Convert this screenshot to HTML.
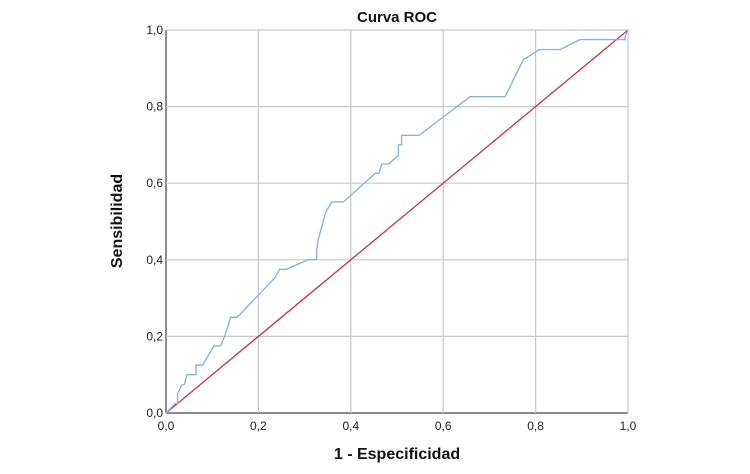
<!DOCTYPE html>
<html><head><meta charset="utf-8"><style>
body{margin:0;background:#fff;}
svg text{font-family:"Liberation Sans",Arial,sans-serif;}
</style></head><body>
<svg width="750" height="469" viewBox="0 0 750 469">
<g id="grid"></g>
<g id="ticks"></g>
<text x="397" y="22" text-anchor="middle" font-size="15" font-weight="bold" fill="#111">Curva ROC</text>
<text x="397" y="459" text-anchor="middle" font-size="16" font-weight="bold" fill="#111">1 - Especificidad</text>
<text transform="translate(122,221) rotate(-90)" text-anchor="middle" font-size="16" font-weight="bold" fill="#111">Sensibilidad</text>
<polyline id="ref" fill="none" stroke="#c8395a" stroke-width="1.4"/>
<polyline id="roc" fill="none" stroke="#8db3d9" stroke-width="1.4"/>
</svg>
<script>
const tickValues=[0,0.2,0.4,0.6,0.8,1.0];
const tickLabels=["0,0","0,2","0,4","0,6","0,8","1,0"];
const rocX=[0,0.02,0.025,0.025,0.034,0.04,0.045,0.065,0.065,0.079,0.104,0.118,0.127,0.14,0.154,0.235,0.246,0.26,0.307,0.326,0.326,0.33,0.346,0.359,0.384,0.453,0.461,0.467,0.482,0.503,0.503,0.51,0.51,0.548,0.658,0.734,0.774,0.781,0.808,0.853,0.896,0.994,0.994,1];
const rocY=[0,0.025,0.025,0.051,0.073,0.075,0.1,0.1,0.125,0.125,0.175,0.175,0.2,0.25,0.25,0.352,0.375,0.375,0.4,0.401,0.425,0.455,0.525,0.551,0.551,0.626,0.626,0.65,0.65,0.673,0.7,0.7,0.725,0.725,0.826,0.826,0.924,0.928,0.949,0.949,0.975,0.975,0.985,1];
const refX=[0,1], refY=[0,1];
const X0=166,X1=628,Y0=413,Y1=30;
const sx=v=>X0+v*(X1-X0), sy=v=>Y0-v*(Y0-Y1);
const NS="http://www.w3.org/2000/svg";
const grid=document.getElementById('grid'), ticks=document.getElementById('ticks');
tickValues.forEach((v,i)=>{
 let l=document.createElementNS(NS,'line');
 
 
 l.setAttribute('x1',sx(v));l.setAttribute('x2',sx(v));l.setAttribute('y1',Y1);l.setAttribute('y2',Y0);
 l.setAttribute('stroke',i===0?'#666':'#c8c8c8');l.setAttribute('stroke-width',i===0?1.5:1.2);grid.appendChild(l);
 let h=document.createElementNS(NS,'line');
 
 
 h.setAttribute('x1',X0);h.setAttribute('x2',X1);h.setAttribute('y1',sy(v));h.setAttribute('y2',sy(v));
 h.setAttribute('stroke',i===0?'#666':'#c8c8c8');h.setAttribute('stroke-width',i===0?1.5:1.2);grid.appendChild(h);
 let tx=document.createElementNS(NS,'text');
 
 
 tx.setAttribute('x',sx(v));tx.setAttribute('y',Y0+17);tx.setAttribute('text-anchor','middle');tx.setAttribute('font-size','12');tx.setAttribute('fill','#222');
 tx.textContent=tickLabels[i];ticks.appendChild(tx);
 let ty=document.createElementNS(NS,'text');
 
 
 ty.setAttribute('x',X0-3);ty.setAttribute('y',sy(v)+4);ty.setAttribute('text-anchor','end');ty.setAttribute('font-size','12');ty.setAttribute('fill','#222');
 ty.textContent=tickLabels[i];ticks.appendChild(ty);
});
document.getElementById('roc').setAttribute('points',rocX.map((x,i)=>sx(x)+','+sy(rocY[i])).join(' '));
document.getElementById('ref').setAttribute('points',refX.map((x,i)=>sx(x)+','+sy(refY[i])).join(' '));
</script>
</body></html>
